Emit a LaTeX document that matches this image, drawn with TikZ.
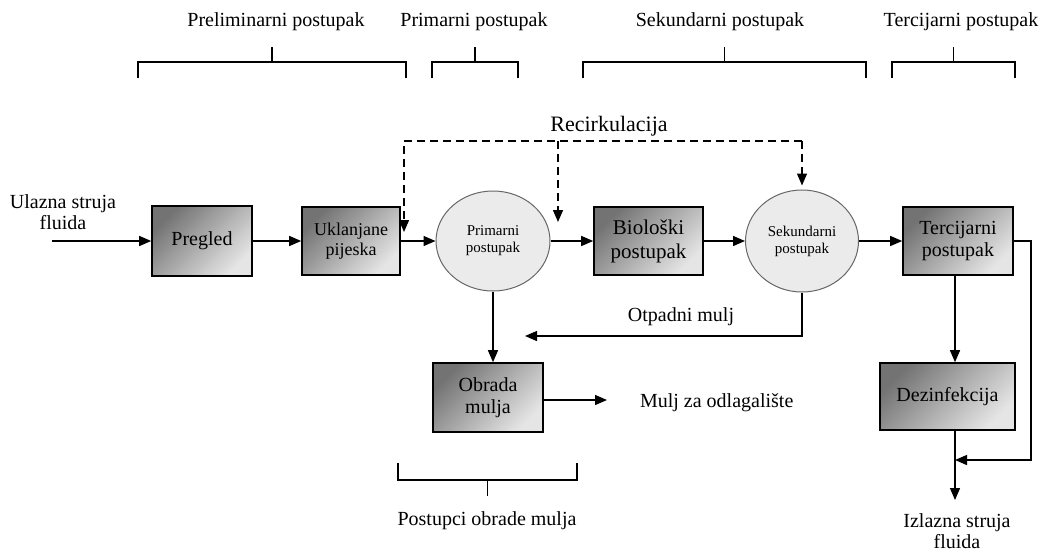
\documentclass[tikz,border=0pt]{standalone}
\usepackage{fontspec}
\setmainfont{Liberation Serif}
\usetikzlibrary{arrows.meta,shapes.geometric}
\tikzset{
  blok/.style={rectangle,draw,line width=0.8pt,top color=black!55,bottom color=black!10,shading angle=45,align=center,inner sep=1pt},
  krug/.style={ellipse,draw=black!60,line width=0.5pt,fill=black!8,align=center,inner sep=0pt,font=\fontsize{7.5}{8.5}\selectfont},
  tok/.style={line width=0.7pt,-{Triangle[length=6pt,width=5pt]}},
  recirk/.style={tok,dash pattern=on 4pt off 2.5pt},
  oznaka/.style={align=center,inner sep=0pt},
}
\begin{document}
\begin{tikzpicture}[x=0.5pt,y=-0.5pt,font=\fontsize{10}{11}\selectfont]
\useasboundingbox (0,0) rectangle (1054,552);
% faze obrade
\node (prelim) at (276,22) {Preliminarni postupak};
\node (primf) at (474,22) {Primarni postupak};
\node (sekf) at (720,22) {Sekundarni postupak};
\node (tercf) at (961,22) {Tercijarni postupak};
\foreach \a/\b in {138/406,432/518,583/866,892/1015}
  \draw[line width=0.6pt] (\a,78) -- (\a,62) -- (\b,62) -- (\b,78) ({(\a+\b)/2},62) -- ({(\a+\b)/2},47);
% glavna linija
\node[oznaka,font=\fontsize{10}{8.5}\selectfont] (ulazt) at (63,212) {Ulazna struja\\fluida};
\coordinate (ulaz) at (52,241);
\node[blok,minimum width=50pt,minimum height=35pt] (preg) at (202,241) {Pregled};
\node[blok,minimum width=49pt,minimum height=34pt,font=\fontsize{9}{10}\selectfont] (ukl) at (351,241) {Uklanjane\\pijeska};
\node[krug,minimum width=57pt,minimum height=50pt] (prim) at (493,241) {Primarni\\postupak};
\node[blok,minimum width=54.5pt,minimum height=34pt,font=\fontsize{10.5}{12}\selectfont] (bio) at (648.5,241) {Biološki\\postupak};
\node[krug,minimum width=56.5pt,minimum height=51pt] (sek) at (802,241) {Sekundarni\\postupak};
\node[blok,minimum width=55pt,minimum height=34pt] (terc) at (958,241) {Tercijarni\\postupak};
\node[blok,minimum width=67.5pt,minimum height=33.5pt] (dez) at (947.5,396.5) {Dezinfekcija};
\node[blok,minimum width=55pt,minimum height=34.5pt] (obr) at (488,397.5) {Obrada\\mulja};
\draw[tok] (ulaz) -- (preg);
\draw[tok] (preg) -- (ukl);
\draw[tok] (ukl) -- (prim);
\draw[tok] (prim) -- (bio);
\draw[tok] (bio) -- (sek);
\draw[tok] (sek) -- (terc);
% recirkulacija
\node[font=\fontsize{11}{12}\selectfont] (rec) at (609,126) {Recirkulacija};
\coordinate (rl) at (404,141); \coordinate (rs) at (558,141); \coordinate (rd) at (802,141);
\coordinate (rl1) at (404,232); \coordinate (rs1) at (558,222);
\draw[recirk] (rd) -- (rl) -- (rl1);
\draw[recirk] (rs) -- (rs1);
\draw[recirk,shorten >=2pt] (rd) -- (sek.north);
% mulj
\coordinate (otpad) at (525,336);
\draw[tok] (sek.south) |- (otpad);
\node (otpt) at (681,317) {Otpadni mulj};
\draw[tok] (prim.south) -- (prim.south |- obr.north);
\coordinate (odlag) at (607,400);
\draw[tok] (obr.east |- odlag) -- (odlag);
\node[anchor=west] (odlagt) at (633,403) {Mulj za odlagalište};
\draw[line width=0.6pt] (398,463) -- (398,480) -- (577,480) -- (577,463) (487.5,480) -- (487.5,496);
\node (obrf) at (487,521) {Postupci obrade mulja};
% tercijarni i izlaz
\coordinate (izlaz) at (955,500);
\coordinate (obilaz) at (1031,460);
\draw[tok] (terc.south -| izlaz) -- (dez.north -| izlaz);
\draw[tok] (dez.south -| izlaz) -- (izlaz);
\draw[tok] (terc.east) -| (obilaz) -- (obilaz -| izlaz);
\node[oznaka,font=\fontsize{10}{8.5}\selectfont] (izlazt) at (957,531) {Izlazna struja\\fluida};
\end{tikzpicture}
\end{document}
